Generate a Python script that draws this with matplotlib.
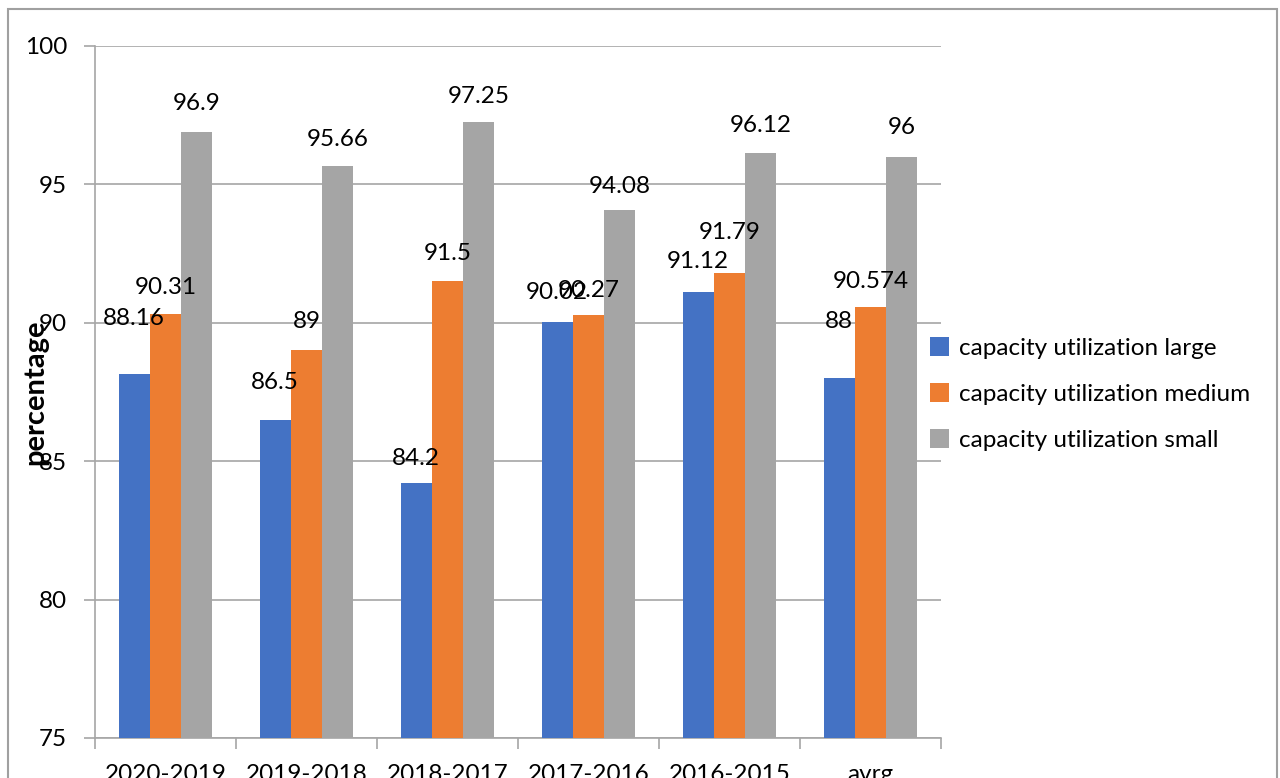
import matplotlib
matplotlib.use("Agg")
import matplotlib.pyplot as plt
import numpy as np
from matplotlib.patches import Rectangle

categories = ["2020-2019", "2019-2018", "2018-2017", "2017-2016", "2016-2015", "avrg"]
series_names = ["capacity utilization large", "capacity utilization medium", "capacity utilization small"]
large = [88.16, 86.5, 84.2, 90.02, 91.12, 88]
medium = [90.31, 89, 91.5, 90.27, 91.79, 90.574]
small = [96.9, 95.66, 97.25, 94.08, 96.12, 96]
label_texts = [["88.16", "86.5", "84.2", "90.02", "91.12", "88"],
               ["90.31", "89", "91.5", "90.27", "91.79", "90.574"],
               ["96.9", "95.66", "97.25", "94.08", "96.12", "96"]]

# layout: label offsets above bar tops (data units)
label_offsets = [[1.98, 1.33, 0.88, 1.09, 1.08, 2.03],
                 [0.98, 1.03, 1.02, 0.91, 1.49, 0.90],
                 [1.04, 0.98, 0.91, 0.86, 0.99, 1.04]]
colors = ["#4472C4", "#ED7D31", "#A5A5A5"]

plt.rcParams['font.family'] = ['Lato', 'DejaVu Sans']
FS = 17.5

fig = plt.figure(figsize=(12.8, 7.78), dpi=100)
ax = fig.add_axes([95/1280, 1-738/778, (941-95)/1280, (738-46)/778])

x = np.arange(len(categories))
w = 0.222
grid_c = "#A6A6A6"
values = [large, medium, small]
for i, (vals, name, c) in enumerate(zip(values, series_names, colors)):
    pos = x + (i - 1) * w
    ax.bar(pos, np.array(vals) - 75, bottom=75, width=w, color=c, label=name, zorder=3)
    for p, v, t, off in zip(pos, vals, label_texts[i], label_offsets[i]):
        ax.text(p, v + off, t, ha="center", va="center", fontsize=FS, zorder=4)

ax.set_xlim(-0.5, len(categories) - 0.5)
ax.set_ylim(75, 100)
ax.set_yticks([75, 80, 85, 90, 95, 100])
ax.set_yticklabels(["75", "80", "85", "90", "95", "100"], fontsize=FS)
ax.set_xticks(x)
ax.set_xticklabels(categories, fontsize=FS)
ax.set_xticks(np.arange(len(categories) + 1) - 0.5, minor=True)
ax.tick_params(axis="x", which="major", length=0, pad=19)
ax.tick_params(axis="x", which="minor", length=8, color=grid_c, width=1.2)
ax.tick_params(axis="y", length=8, color=grid_c, width=1.2, pad=12)
ax.yaxis.grid(True, color=grid_c, linewidth=1.2, zorder=0)
for s in ["top", "right"]:
    ax.spines[s].set_visible(False)
for s in ["left", "bottom"]:
    ax.spines[s].set_color(grid_c)
    ax.spines[s].set_linewidth(1.2)

ax.set_ylabel("percentage", fontsize=21, fontweight="bold", labelpad=0)
ax.yaxis.set_label_coords(-0.0556, 0.5)

leg = ax.legend(loc="center left", bbox_to_anchor=(0.975, 0.497), frameon=False,
                fontsize=FS, handlelength=0.8, handleheight=0.8, handletextpad=0.4,
                labelspacing=1.0, borderaxespad=0)

fig.patches.append(Rectangle((8/1280, -0.05), (1277-8)/1280, 1-9/778+0.05,
                             transform=fig.transFigure, fill=False,
                             edgecolor="#A0A0A0", linewidth=1.5))

fig.savefig("out.png", dpi=100)
